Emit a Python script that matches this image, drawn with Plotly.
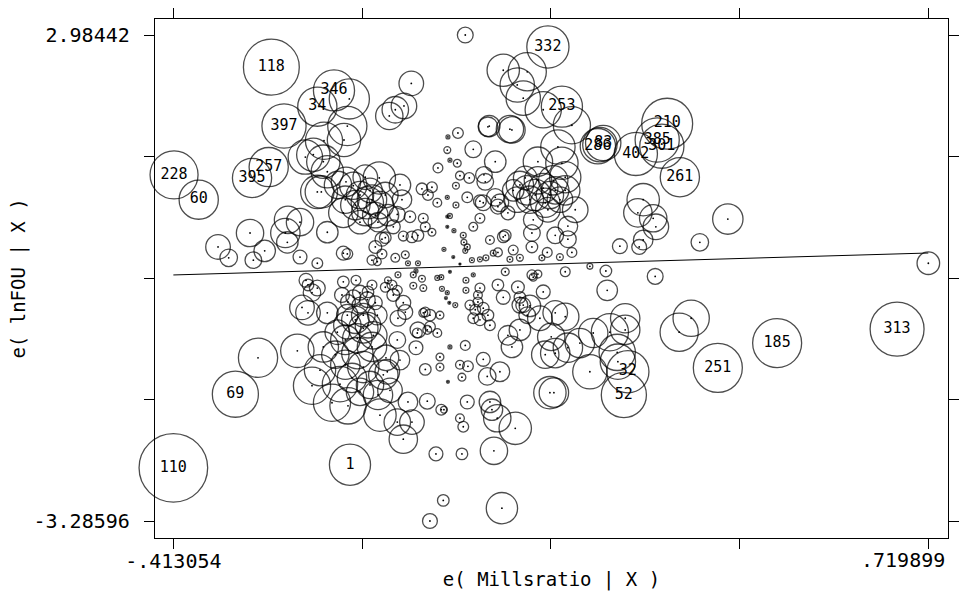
import numpy as np
import plotly.graph_objects as go

# Added-variable plot: e(lnFOU | X) against e(Millsratio | X), circles sized by weight

# observations identified by number
lab_id = ["118", "346", "34", "397", "257", "395", "228", "60", "332", "253",
          "286", "83", "402", "210", "385", "301", "261", "313", "185", "251",
          "52", "32", "1", "69", "110"]
lab_x = [-0.266, -0.172, -0.197, -0.247, -0.270, -0.295, -0.412, -0.375, 0.149, 0.170,
         0.224, 0.232, 0.281, 0.328, 0.313, 0.320, 0.347, 0.673, 0.493, 0.404,
         0.263, 0.269, -0.148, -0.320, -0.413054]
lab_y = [2.57, 2.27, 2.06, 1.81, 1.28, 1.14, 1.18, 0.86, 2.83, 2.06,
         1.55, 1.59, 1.45, 1.84, 1.63, 1.55, 1.15, -0.81, -0.99, -1.31,
         -1.66, -1.36, -2.56, -1.65, -2.60]
lab_w = [32.5, 17.6, 16.0, 20.3, 16.0, 16.0, 24.0, 16.0, 18.5, 17.6,
         13.0, 13.0, 19.4, 27.0, 20.3, 20.3, 16.0, 30.3, 25.0, 25.0,
         21.2, 18.5, 17.6, 22.1, 49.0]

# remaining observations
obs_x = [
    -0.149, -0.152, -0.157, -0.187, -0.215, -0.203, -0.188, -0.182, -0.197, -0.191,
    -0.166, -0.154, -0.143, -0.125, -0.104, -0.073, -0.070, -0.122, -0.158, -0.056,
    -0.067, -0.080, -0.089, 0.025, -0.133, -0.115, -0.103, -0.125, -0.110, -0.095,
    -0.140, -0.118, -0.091, -0.155, -0.106, -0.133,
    -0.241, -0.223, -0.245, -0.242, -0.298, -0.182, -0.346, -0.330, -0.293, -0.276,
    -0.223, -0.197, -0.158, -0.152, -0.110, -0.100, -0.083, -0.058, -0.077, -0.115,
    -0.107, -0.100, -0.080, -0.065, -0.038, -0.035,
    -0.214, -0.211, -0.197, -0.205, -0.158, -0.139, -0.220, -0.211, -0.182, -0.160,
    -0.151, -0.143, -0.133, -0.121, -0.115, -0.122, -0.133, -0.110, -0.152, -0.128,
    -0.107, -0.167, -0.152, -0.128, -0.113, -0.137,
    0.014, -0.001, -0.002, 0.037, 0.002, 0.013, -0.016, 0.017, 0.031, 0.053,
    0.055, 0.011, -0.002, 0.028, 0.047, 0.011, -0.017, 0.002, -0.040, -0.025,
    -0.031, 0.074, 0.089, 0.047, 0.037, -0.002, 0.061, 0.092, 0.095, 0.070,
    -0.095, -0.068, -0.055, -0.046, -0.025, -0.002, 0.008, 0.022, 0.023, 0.028,
    0.025, -0.007, 0.007, 0.017, 0.035, 0.047, 0.056, 0.062, 0.082, 0.074,
    0.067, 0.097, 0.092, 0.107, 0.125, 0.125, -0.046, -0.061,
    -0.076, -0.053, -0.049, -0.040, -0.017, -0.011, -0.053, -0.038, -0.010, 0.002,
    0.026, 0.026, 0.037, -0.002, -0.004, 0.001, 0.010, 0.047, 0.044, 0.044,
    0.032, 0.040, 0.052, 0.059, 0.037, 0.047, 0.062, 0.074, 0.082, 0.104,
    0.107, 0.107, 0.125, 0.085, -0.091, -0.095, -0.085, -0.077, -0.083, -0.068,
    -0.065, -0.076, -0.035, -0.028, -0.013, -0.028, -0.017, -0.046, -0.077, 0.025,
    0.002, 0.089, 0.118,
    0.082, 0.118, 0.103, 0.112, 0.142, 0.185, 0.059, 0.164, 0.134, 0.170,
    0.175, 0.157, 0.227, 0.292, 0.284, 0.307, 0.311, 0.292, 0.286, 0.257,
    0.377, 0.419, 0.719899, 0.190, 0.179, 0.160, 0.179, 0.185, 0.167, 0.148,
    0.127, 0.077, 0.052, 0.070, 0.085, 0.107, 0.118, 0.130, 0.142, 0.152,
    0.145, 0.122, 0.160, 0.167, 0.134, 0.115, 0.097, 0.103, 0.149, 0.175,
    0.310, 0.236, 0.238, 0.212, 0.175, 0.142, 0.127, 0.134, 0.140,
    0.364, 0.346, 0.253, 0.254, 0.265, 0.265, 0.212, 0.242, 0.217, 0.197,
    0.179, 0.152, 0.158, 0.154, 0.145, 0.160, 0.175, 0.160, 0.137, 0.122,
    0.107, 0.095, 0.112, 0.077, 0.058, 0.052, 0.073, 0.100, 0.068, 0.080,
    0.062, 0.065, 0.028, 0.022, 0.020, 0.029, 0.020,
    -0.286, -0.227, -0.188, -0.193, -0.205, -0.163, -0.175, -0.151, -0.103, -0.077,
    -0.055, -0.068, -0.061, -0.032, -0.011, -0.007, 0.017, -0.019, -0.008, -0.028,
    -0.013, -0.013, 0.017, -0.001, -0.035, -0.049, -0.094, -0.073, -0.092, -0.032,
    -0.047, -0.038, -0.098, -0.128, -0.137, -0.115, -0.140, -0.121, -0.155, -0.170,
    -0.118, -0.145, -0.106, -0.133, -0.088, -0.155,
]
obs_y = [
    2.16, 1.81, 1.63, 1.62, 1.41, 1.44, 1.35, 1.22, 0.96, 0.96,
    1.05, 1.09, 1.04, 1.15, 1.14, 1.05, 0.86, 0.82, 0.69, 2.36,
    2.07, 2.02, 1.94, 2.98442, 0.92, 0.86, 0.79, 0.70, 0.66, 0.92,
    0.79, 0.98, 0.66, 0.86, 0.57, 0.57,
    0.60, 0.57, 0.43, 0.31, 0.43, 0.44, 0.25, 0.11, 0.08, 0.20,
    0.12, 0.04, 0.17, 0.16, 0.25, 0.35, 0.51, 0.64, 0.67, 0.08,
    0.06, 0.16, 0.11, 0.15, 0.62, 0.51,
    -0.18, -0.24, -0.28, -0.34, -0.20, -0.18, -0.53, -0.60, -0.60, -0.37,
    -0.46, -0.40, -0.34, -0.33, -0.24, -0.43, -0.50, -0.47, -0.63, -0.63,
    -0.63, -0.85, -0.76, -0.80, -0.89, -0.93,
    1.72, 1.67, 1.50, 1.51, 1.37, 1.33, 1.27, 1.17, 1.14, 1.18,
    1.09, 1.04, 0.89, 0.89, 0.84, 0.79, 0.82, 0.65, 1.00, 1.02,
    0.92, 0.77, 0.69, 0.62, 0.51, 0.64, 1.81, 1.77, 1.76, 1.35,
    0.37, 0.39, 0.38, 0.40, 0.44, 0.51, 0.46, 0.40, 0.31, 0.25,
    0.20, 0.22, 0.12, 0.03, 0.08, 0.09, 0.11, 0.34, 0.38, 0.18,
    0.17, 0.21, 0.09, 0.11, 0.25, 0.43, 0.04, 0.04,
    -0.11, -0.11, -0.06, -0.16, -0.15, -0.14, -0.25, -0.28, -0.29, -0.07,
    -0.18, -0.31, -0.11, -0.34, -0.41, -0.47, -0.50, -0.28, -0.37, -0.46,
    -0.50, -0.56, -0.54, -0.63, -0.67, -0.69, -0.76, -0.24, -0.40, -0.27,
    -0.40, -0.50, -0.11, -0.07, -0.18, -0.27, -0.24, -0.31, -0.37, -0.47,
    -0.59, -0.67, -0.59, -0.63, -0.63, -0.78, -0.86, -0.82, -0.95, -1.02,
    -1.04, -0.89, -0.63,
    2.53, 2.51, 2.34, 2.17, 2.02, 1.82, 1.80, 1.54, 1.35, 1.33,
    1.15, 1.11, 1.57, 0.86, 0.69, 0.62, 0.51, 0.34, 0.25, 0.26,
    0.31, 0.61, 0.04, 0.73, 0.52, 0.40, 0.35, 0.18, 0.12, 0.18,
    0.60, 0.82, 0.82, 0.89, 0.40, 1.05, 0.98, 0.92, 1.01, 0.92,
    0.82, 0.86, 0.98, 0.86, 1.11, 1.14, 0.98, 0.86, 0.73, 0.98,
    -0.13, -0.06, -0.31, 0.00, -0.07, -0.33, -0.14, -0.10, 0.11,
    -0.67, -0.85, -1.11, -1.23, -0.67, -0.82, -1.36, -0.85, -0.86, -0.99,
    -1.05, -1.63, -1.63, -0.91, -1.14, -1.12, -0.65, -0.60, -0.67, -0.51,
    -0.82, -1.04, -0.50, -1.36, -1.42, -1.20, -1.96, -2.09, -2.38, -3.12,
    -1.75, -1.85, -1.75, -2.07, -2.42, -1.29, -1.43,
    -1.18, -1.09, -1.04, -1.34, -1.54, -1.52, -1.76, -1.80, -1.92, -2.01,
    -2.01, -2.23, -1.75, -1.74, -1.85, -1.85, -1.96, -2.42, -3.02, -3.28596,
    -1.17, -1.30, -1.27, -1.49, -1.33, -1.05, -1.18, -1.21, -1.36, -0.82,
    -0.86, -0.60, -1.40, -1.30, -1.12, -1.04, -0.69, -0.76, -0.95, -1.14,
    -1.53, -1.44, -1.66, -1.62, -1.60, -1.27,
]
obs_w = [
    16.8, 16.0, 11.6, 14.4, 12.3, 11.6, 11.6, 10.9, 11.6, 10.9,
    7.8, 9.0, 7.8, 6.3, 10.9, 4.8, 4.0, 10.9, 9.0, 6.3,
    6.8, 7.3, 7.8, 2.6, 7.8, 9.0, 7.8, 7.8, 6.8, 6.8,
    9.0, 6.3, 4.8, 7.8, 4.0, 5.8,
    7.8, 7.8, 9.0, 4.8, 7.8, 4.8, 6.3, 3.2, 2.9, 4.8,
    2.0, 1.2, 2.0, 1.2, 1.7, 2.0, 2.0, 1.4, 2.6, 1.0,
    0.64, 1.0, 0.81, 0.64, 1.0, 1.0,
    2.0, 1.4, 2.6, 3.2, 1.4, 1.0, 6.3, 6.3, 4.8, 2.3,
    2.3, 2.3, 2.3, 1.4, 1.0, 2.6, 2.6, 2.0, 4.8, 5.8,
    4.0, 6.3, 7.8, 9.0, 7.8, 9.0,
    1.2, 0.16, 0.49, 2.9, 0.16, 0.64, 1.0, 0.81, 1.2, 2.9,
    2.9, 0.49, 0.16, 1.2, 1.7, 0.36, 0.81, 0.25, 1.4, 1.2,
    1.2, 2.3, 2.0, 1.0, 0.81, 0.09, 4.8, 7.8, 7.3, 4.8,
    1.4, 1.0, 1.4, 1.4, 0.64, 0.09, 0.16, 0.36, 0.36, 0.36,
    0.25, 0.16, 0.09, 0.04, 0.25, 0.25, 0.36, 0.81, 1.4, 0.81,
    0.36, 1.0, 0.36, 0.49, 1.4, 2.9, 0.25, 0.25,
    0.36, 0.36, 0.16, 0.49, 0.25, 0.25, 0.49, 0.49, 0.25, 0.09,
    0.36, 0.36, 0.16, 0.16, 0.09, 0.09, 0.25, 1.0, 0.81, 1.0,
    1.0, 1.2, 1.4, 1.4, 1.2, 1.4, 1.2, 1.4, 2.0, 1.7,
    1.4, 2.6, 1.0, 0.64, 0.49, 1.0, 1.0, 1.0, 1.7, 2.3,
    2.3, 2.6, 1.0, 1.4, 0.64, 1.2, 0.81, 2.6, 2.9, 1.0,
    0.16, 4.0, 2.9,
    10.9, 15.2, 12.3, 12.3, 13.7, 14.4, 4.0, 12.3, 9.0, 10.9,
    10.2, 9.0, 12.3, 10.9, 8.4, 7.8, 6.8, 4.0, 2.3, 2.3,
    3.2, 9.6, 5.3, 6.8, 4.0, 2.9, 2.9, 1.0, 0.49, 1.0,
    4.0, 3.2, 2.6, 3.2, 1.4, 7.8, 9.0, 10.2, 9.0, 7.8,
    9.0, 7.8, 7.8, 6.8, 7.8, 5.8, 4.8, 6.8, 6.3, 9.0,
    2.6, 1.4, 4.4, 0.36, 1.0, 2.0, 0.64, 0.64, 0.36,
    13.7, 15.2, 13.7, 13.0, 9.0, 9.0, 12.3, 14.4, 9.0, 9.0,
    9.0, 10.9, 9.0, 7.8, 7.8, 9.0, 7.8, 6.3, 6.3, 4.8,
    4.8, 4.8, 2.3, 4.0, 3.2, 2.0, 7.8, 10.9, 7.8, 10.2,
    4.8, 4.8, 2.0, 1.2, 1.4, 1.2, 0.64,
    16.0, 11.6, 9.6, 10.2, 14.4, 13.0, 14.4, 13.7, 10.9, 7.3,
    6.3, 8.4, 4.0, 2.6, 1.2, 0.49, 0.81, 2.0, 1.4, 2.3,
    0.64, 0.64, 0.81, 0.09, 1.4, 2.0, 6.8, 4.0, 6.3, 0.81,
    1.0, 0.81, 9.0, 10.2, 10.2, 9.0, 7.8, 6.8, 9.0, 7.8,
    7.8, 9.0, 9.0, 7.8, 6.3, 9.0,
]

# avplot fit (coefficient on Millsratio, constant)
fit_slope = 0.25
fit_const = -0.008

x_ticks = [-0.413054, -0.129816, 0.153423, 0.436661, 0.719899]
x_ticktext = ["-.413054", "", "", "", ""]
x_max_label = ".719899"
y_ticks = [-3.28596, -1.718365, -0.15077, 1.416825, 2.98442]
y_ticktext = ["-3.28596", "", "", "", "2.98442"]

FONT = "DejaVu Sans Mono"
SIZE_K = 9.8


def circle_size(w):
    return SIZE_K * np.sqrt(np.asarray(w, dtype=float))


all_x = np.array(obs_x + lab_x)
all_y = np.array(obs_y + lab_y)
all_w = np.array(obs_w + lab_w)

fig = go.Figure()

fig.add_trace(go.Scatter(
    x=all_x, y=all_y, mode="markers",
    marker=dict(symbol="circle-open", size=circle_size(all_w), color="black",
                line=dict(color="black", width=1.3)),
    cliponaxis=False, showlegend=False, hoverinfo="skip",
))

# centre dots for unnumbered observations
fig.add_trace(go.Scatter(
    x=obs_x, y=obs_y, mode="markers",
    marker=dict(symbol="circle", size=1.8, color="black"),
    showlegend=False, hoverinfo="skip",
))

# observation numbers
fig.add_trace(go.Scatter(
    x=lab_x, y=lab_y, mode="text", text=lab_id, textposition="middle center",
    textfont=dict(family=FONT, size=15, color="black"),
    cliponaxis=False, showlegend=False, hoverinfo="skip",
))

# fitted line
fx = np.array([all_x.min(), all_x.max()])
fig.add_trace(go.Scatter(
    x=fx, y=fit_const + fit_slope * fx, mode="lines",
    line=dict(color="black", width=1),
    showlegend=False, hoverinfo="skip",
))

axis_common = dict(
    showgrid=False, zeroline=False, showline=True, linecolor="black", linewidth=1.4,
    mirror="ticks", ticks="outside", ticklen=10, tickwidth=1.2, tickcolor="black",
    tickfont=dict(family=FONT, size=20, color="black"), automargin=False,
)

fig.update_layout(
    width=962, height=596,
    margin=dict(l=155, r=14, t=19, b=58, pad=0),
    paper_bgcolor="white", plot_bgcolor="white",
    font=dict(family=FONT, color="black"),
    xaxis=dict(range=[-0.4406, 0.7494], tickvals=x_ticks, ticktext=x_ticktext,
               ticklabelstandoff=-5,
               title=dict(text="e( Millsratio | X )", standoff=0,
                          font=dict(family=FONT, size=19, color="black")),
               **axis_common),
    yaxis=dict(range=[-3.505, 3.191], tickvals=y_ticks, ticktext=y_ticktext,
               ticklabelstandoff=10,
               title=dict(text="e( lnFOU | X )", standoff=2,
                          font=dict(family=FONT, size=19, color="black")),
               **axis_common),
)

# upper-end x label, right-aligned near its tick so it stays inside the page
fig.add_annotation(
    x=x_ticks[-1], xref="x", y=0, yref="paper", yanchor="top", xanchor="right",
    xshift=19, yshift=-8, text=x_max_label, showarrow=False,
    font=dict(family=FONT, size=20, color="black"),
)

fig.write_html("out.html")
